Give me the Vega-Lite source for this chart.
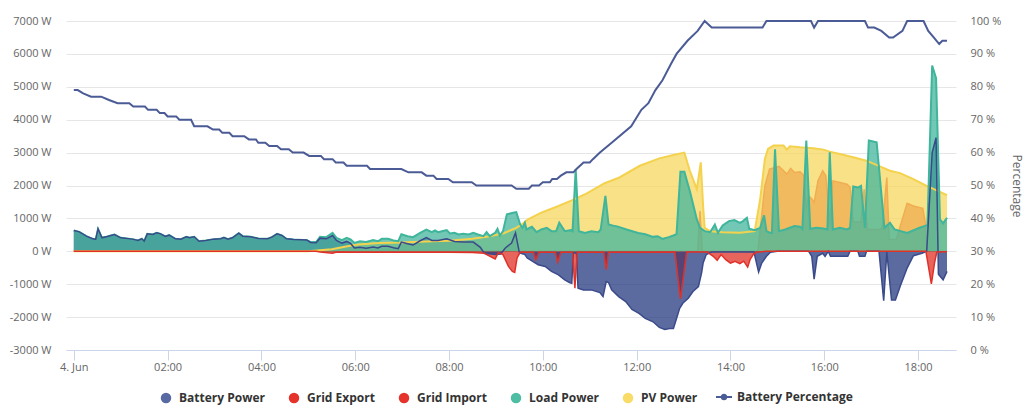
{
  "$schema": "https://vega.github.io/schema/vega-lite/v6.json",
  "width": 890,
  "height": 329,
  "autosize": "none",
  "padding": {"left": 66, "top": 21, "right": 75, "bottom": 67},
  "background": "#ffffff",
  "config": {
    "view": {"stroke": null},
    "font": "Open Sans",
    "axis": {"labelFont": "Open Sans", "labelColor": "#666666", "labelFontSize": 11, "titleFont": "Open Sans"}
  },
  "datasets": {
    "load": [
      {"t":"2024-06-04T00:00","v":630},{"t":"2024-06-04T00:07","v":590},{"t":"2024-06-04T00:16","v":460},{"t":"2024-06-04T00:24","v":380},{"t":"2024-06-04T00:28","v":360},{"t":"2024-06-04T00:31","v":680},{"t":"2024-06-04T00:36","v":410},{"t":"2024-06-04T00:43","v":450},{"t":"2024-06-04T00:52","v":510},{"t":"2024-06-04T01:00","v":410},{"t":"2024-06-04T01:15","v":370},{"t":"2024-06-04T01:22","v":330},{"t":"2024-06-04T01:27","v":380},{"t":"2024-06-04T01:30","v":306},{"t":"2024-06-04T01:34","v":530},{"t":"2024-06-04T01:41","v":510},{"t":"2024-06-04T01:46","v":560},{"t":"2024-06-04T01:51","v":530},{"t":"2024-06-04T01:57","v":450},{"t":"2024-06-04T02:02","v":490},{"t":"2024-06-04T02:10","v":380},{"t":"2024-06-04T02:17","v":370},{"t":"2024-06-04T02:24","v":440},{"t":"2024-06-04T02:28","v":410},{"t":"2024-06-04T02:34","v":440},{"t":"2024-06-04T02:40","v":306},{"t":"2024-06-04T02:49","v":330},{"t":"2024-06-04T02:59","v":370},{"t":"2024-06-04T03:08","v":380},{"t":"2024-06-04T03:12","v":420},{"t":"2024-06-04T03:17","v":370},{"t":"2024-06-04T03:23","v":410},{"t":"2024-06-04T03:31","v":550},{"t":"2024-06-04T03:36","v":460},{"t":"2024-06-04T03:46","v":440},{"t":"2024-06-04T03:56","v":390},{"t":"2024-06-04T04:08","v":380},{"t":"2024-06-04T04:14","v":440},{"t":"2024-06-04T04:20","v":530},{"t":"2024-06-04T04:26","v":480},{"t":"2024-06-04T04:32","v":380},{"t":"2024-06-04T04:41","v":360},{"t":"2024-06-04T04:58","v":340},{"t":"2024-06-04T05:03","v":280},{"t":"2024-06-04T05:10","v":280},{"t":"2024-06-04T05:15","v":440},{"t":"2024-06-04T05:23","v":430},{"t":"2024-06-04T05:31","v":560},{"t":"2024-06-04T05:36","v":410},{"t":"2024-06-04T05:43","v":340},{"t":"2024-06-04T05:49","v":410},{"t":"2024-06-04T05:54","v":360},{"t":"2024-06-04T05:59","v":255},{"t":"2024-06-04T06:06","v":306},{"t":"2024-06-04T06:14","v":285},{"t":"2024-06-04T06:23","v":340},{"t":"2024-06-04T06:29","v":306},{"t":"2024-06-04T06:34","v":380},{"t":"2024-06-04T06:42","v":380},{"t":"2024-06-04T06:49","v":330},{"t":"2024-06-04T06:55","v":306},{"t":"2024-06-04T06:59","v":520},{"t":"2024-06-04T07:07","v":460},{"t":"2024-06-04T07:14","v":430},{"t":"2024-06-04T07:23","v":560},{"t":"2024-06-04T07:31","v":660},{"t":"2024-06-04T07:38","v":580},{"t":"2024-06-04T07:42","v":632},{"t":"2024-06-04T07:46","v":581},{"t":"2024-06-04T07:51","v":612},{"t":"2024-06-04T07:57","v":643},{"t":"2024-06-04T08:01","v":540},{"t":"2024-06-04T08:07","v":561},{"t":"2024-06-04T08:12","v":510},{"t":"2024-06-04T08:18","v":530},{"t":"2024-06-04T08:25","v":510},{"t":"2024-06-04T08:31","v":561},{"t":"2024-06-04T08:37","v":510},{"t":"2024-06-04T08:44","v":459},{"t":"2024-06-04T08:48","v":581},{"t":"2024-06-04T08:52","v":459},{"t":"2024-06-04T08:59","v":561},{"t":"2024-06-04T09:02","v":683},{"t":"2024-06-04T09:05","v":480},{"t":"2024-06-04T09:09","v":612},{"t":"2024-06-04T09:14","v":1122},{"t":"2024-06-04T09:22","v":1173},{"t":"2024-06-04T09:26","v":1193},{"t":"2024-06-04T09:31","v":816},{"t":"2024-06-04T09:34","v":714},{"t":"2024-06-04T09:37","v":867},{"t":"2024-06-04T09:39","v":663},{"t":"2024-06-04T09:46","v":745},{"t":"2024-06-04T09:52","v":581},{"t":"2024-06-04T09:58","v":663},{"t":"2024-06-04T10:05","v":714},{"t":"2024-06-04T10:11","v":612},{"t":"2024-06-04T10:17","v":612},{"t":"2024-06-04T10:21","v":867},{"t":"2024-06-04T10:28","v":612},{"t":"2024-06-04T10:36","v":643},{"t":"2024-06-04T10:38","v":612},{"t":"2024-06-04T10:42","v":2500},{"t":"2024-06-04T10:46","v":612},{"t":"2024-06-04T10:54","v":561},{"t":"2024-06-04T11:02","v":612},{"t":"2024-06-04T11:11","v":581},{"t":"2024-06-04T11:14","v":663},{"t":"2024-06-04T11:20","v":1683},{"t":"2024-06-04T11:24","v":816},{"t":"2024-06-04T11:30","v":780},{"t":"2024-06-04T11:35","v":758},{"t":"2024-06-04T11:48","v":657},{"t":"2024-06-04T12:02","v":557},{"t":"2024-06-04T12:11","v":520},{"t":"2024-06-04T12:21","v":439},{"t":"2024-06-04T12:27","v":460},{"t":"2024-06-04T12:33","v":377},{"t":"2024-06-04T12:41","v":430},{"t":"2024-06-04T12:47","v":479},{"t":"2024-06-04T12:51","v":520},{"t":"2024-06-04T12:56","v":2417},{"t":"2024-06-04T13:01","v":2417},{"t":"2024-06-04T13:08","v":1836},{"t":"2024-06-04T13:17","v":969},{"t":"2024-06-04T13:21","v":714},{"t":"2024-06-04T13:27","v":612},{"t":"2024-06-04T13:34","v":581},{"t":"2024-06-04T13:40","v":816},{"t":"2024-06-04T13:44","v":561},{"t":"2024-06-04T13:50","v":785},{"t":"2024-06-04T13:58","v":918},{"t":"2024-06-04T14:05","v":949},{"t":"2024-06-04T14:12","v":867},{"t":"2024-06-04T14:16","v":918},{"t":"2024-06-04T14:21","v":1020},{"t":"2024-06-04T14:24","v":683},{"t":"2024-06-04T14:31","v":643},{"t":"2024-06-04T14:38","v":714},{"t":"2024-06-04T14:43","v":1091},{"t":"2024-06-04T14:46","v":612},{"t":"2024-06-04T14:51","v":560},{"t":"2024-06-04T14:53","v":560},{"t":"2024-06-04T14:57","v":3100},{"t":"2024-06-04T15:02","v":612},{"t":"2024-06-04T15:10","v":663},{"t":"2024-06-04T15:16","v":714},{"t":"2024-06-04T15:22","v":765},{"t":"2024-06-04T15:29","v":745},{"t":"2024-06-04T15:32","v":683},{"t":"2024-06-04T15:37","v":3366},{"t":"2024-06-04T15:42","v":683},{"t":"2024-06-04T15:50","v":714},{"t":"2024-06-04T15:59","v":693},{"t":"2024-06-04T16:04","v":663},{"t":"2024-06-04T16:07","v":3009},{"t":"2024-06-04T16:11","v":663},{"t":"2024-06-04T16:20","v":714},{"t":"2024-06-04T16:29","v":663},{"t":"2024-06-04T16:33","v":714},{"t":"2024-06-04T16:37","v":1969},{"t":"2024-06-04T16:43","v":1938},{"t":"2024-06-04T16:47","v":1989},{"t":"2024-06-04T16:52","v":714},{"t":"2024-06-04T16:57","v":3366},{"t":"2024-06-04T17:07","v":3315},{"t":"2024-06-04T17:17","v":714},{"t":"2024-06-04T17:24","v":867},{"t":"2024-06-04T17:30","v":663},{"t":"2024-06-04T17:46","v":561},{"t":"2024-06-04T18:02","v":714},{"t":"2024-06-04T18:08","v":765},{"t":"2024-06-04T18:12","v":800},{"t":"2024-06-04T18:18","v":5647},{"t":"2024-06-04T18:23","v":5262},{"t":"2024-06-04T18:28","v":969},{"t":"2024-06-04T18:32","v":847},{"t":"2024-06-04T18:37","v":1020}
    ],
    "bat": [
      {"t":"2024-06-04T00:00","v":630},{"t":"2024-06-04T00:07","v":590},{"t":"2024-06-04T00:16","v":460},{"t":"2024-06-04T00:24","v":380},{"t":"2024-06-04T00:28","v":360},{"t":"2024-06-04T00:31","v":680},{"t":"2024-06-04T00:36","v":410},{"t":"2024-06-04T00:43","v":450},{"t":"2024-06-04T00:52","v":510},{"t":"2024-06-04T01:00","v":410},{"t":"2024-06-04T01:15","v":370},{"t":"2024-06-04T01:22","v":330},{"t":"2024-06-04T01:27","v":380},{"t":"2024-06-04T01:30","v":306},{"t":"2024-06-04T01:34","v":530},{"t":"2024-06-04T01:41","v":510},{"t":"2024-06-04T01:46","v":560},{"t":"2024-06-04T01:51","v":530},{"t":"2024-06-04T01:57","v":450},{"t":"2024-06-04T02:02","v":490},{"t":"2024-06-04T02:10","v":380},{"t":"2024-06-04T02:17","v":370},{"t":"2024-06-04T02:24","v":440},{"t":"2024-06-04T02:28","v":410},{"t":"2024-06-04T02:34","v":440},{"t":"2024-06-04T02:40","v":306},{"t":"2024-06-04T02:49","v":330},{"t":"2024-06-04T02:59","v":370},{"t":"2024-06-04T03:08","v":380},{"t":"2024-06-04T03:12","v":420},{"t":"2024-06-04T03:17","v":370},{"t":"2024-06-04T03:23","v":410},{"t":"2024-06-04T03:31","v":550},{"t":"2024-06-04T03:36","v":460},{"t":"2024-06-04T03:46","v":440},{"t":"2024-06-04T03:56","v":390},{"t":"2024-06-04T04:08","v":380},{"t":"2024-06-04T04:14","v":440},{"t":"2024-06-04T04:20","v":530},{"t":"2024-06-04T04:26","v":480},{"t":"2024-06-04T04:32","v":380},{"t":"2024-06-04T04:41","v":360},{"t":"2024-06-04T04:58","v":340},{"t":"2024-06-04T05:03","v":270},{"t":"2024-06-04T05:10","v":260},{"t":"2024-06-04T05:15","v":400},{"t":"2024-06-04T05:23","v":380},{"t":"2024-06-04T05:31","v":480},{"t":"2024-06-04T05:36","v":330},{"t":"2024-06-04T05:43","v":250},{"t":"2024-06-04T05:49","v":300},{"t":"2024-06-04T05:54","v":240},{"t":"2024-06-04T05:59","v":100},{"t":"2024-06-04T06:06","v":120},{"t":"2024-06-04T06:14","v":90},{"t":"2024-06-04T06:23","v":130},{"t":"2024-06-04T06:29","v":100},{"t":"2024-06-04T06:34","v":150},{"t":"2024-06-04T06:42","v":150},{"t":"2024-06-04T06:49","v":110},{"t":"2024-06-04T06:55","v":80},{"t":"2024-06-04T06:59","v":280},{"t":"2024-06-04T07:07","v":230},{"t":"2024-06-04T07:14","v":190},{"t":"2024-06-04T07:23","v":320},{"t":"2024-06-04T07:31","v":420},{"t":"2024-06-04T07:38","v":330},{"t":"2024-06-04T07:46","v":330},{"t":"2024-06-04T07:57","v":380},{"t":"2024-06-04T08:07","v":300},{"t":"2024-06-04T08:18","v":280},{"t":"2024-06-04T08:31","v":280},{"t":"2024-06-04T08:40","v":120},{"t":"2024-06-04T08:45","v":-60},{"t":"2024-06-04T09:00","v":-100},{"t":"2024-06-04T09:06","v":-80},{"t":"2024-06-04T09:12","v":100},{"t":"2024-06-04T09:20","v":250},{"t":"2024-06-04T09:25","v":560},{"t":"2024-06-04T09:30","v":-50},{"t":"2024-06-04T09:35","v":-80},{"t":"2024-06-04T09:37","v":-100},{"t":"2024-06-04T09:40","v":-204},{"t":"2024-06-04T09:47","v":-306},{"t":"2024-06-04T09:54","v":-408},{"t":"2024-06-04T10:03","v":-459},{"t":"2024-06-04T10:11","v":-612},{"t":"2024-06-04T10:20","v":-714},{"t":"2024-06-04T10:28","v":-867},{"t":"2024-06-04T10:34","v":-949},{"t":"2024-06-04T10:37","v":-969},{"t":"2024-06-04T10:39","v":-50},{"t":"2024-06-04T10:43","v":-50},{"t":"2024-06-04T10:45","v":-1122},{"t":"2024-06-04T10:52","v":-1173},{"t":"2024-06-04T11:02","v":-1173},{"t":"2024-06-04T11:13","v":-1255},{"t":"2024-06-04T11:17","v":-1377},{"t":"2024-06-04T11:21","v":-918},{"t":"2024-06-04T11:24","v":-949},{"t":"2024-06-04T11:28","v":-1173},{"t":"2024-06-04T11:37","v":-1377},{"t":"2024-06-04T11:46","v":-1530},{"t":"2024-06-04T11:54","v":-1765},{"t":"2024-06-04T12:03","v":-1887},{"t":"2024-06-04T12:11","v":-2040},{"t":"2024-06-04T12:21","v":-2142},{"t":"2024-06-04T12:29","v":-2315},{"t":"2024-06-04T12:36","v":-2377},{"t":"2024-06-04T12:42","v":-2346},{"t":"2024-06-04T12:47","v":-2346},{"t":"2024-06-04T12:51","v":-2040},{"t":"2024-06-04T12:55","v":-1734},{"t":"2024-06-04T12:59","v":-1581},{"t":"2024-06-04T13:06","v":-1428},{"t":"2024-06-04T13:12","v":-1224},{"t":"2024-06-04T13:19","v":-1071},{"t":"2024-06-04T13:23","v":-663},{"t":"2024-06-04T13:25","v":-357},{"t":"2024-06-04T13:29","v":-100},{"t":"2024-06-04T13:36","v":-20},{"t":"2024-06-04T14:30","v":-20},{"t":"2024-06-04T14:36","v":-630},{"t":"2024-06-04T14:40","v":-357},{"t":"2024-06-04T14:46","v":-153},{"t":"2024-06-04T14:51","v":-30},{"t":"2024-06-04T15:00","v":0},{"t":"2024-06-04T15:40","v":0},{"t":"2024-06-04T15:44","v":-150},{"t":"2024-06-04T15:47","v":-847},{"t":"2024-06-04T15:51","v":-150},{"t":"2024-06-04T15:58","v":-60},{"t":"2024-06-04T16:01","v":-153},{"t":"2024-06-04T16:05","v":0},{"t":"2024-06-04T16:08","v":-153},{"t":"2024-06-04T16:30","v":-153},{"t":"2024-06-04T16:33","v":0},{"t":"2024-06-04T16:43","v":0},{"t":"2024-06-04T16:45","v":-153},{"t":"2024-06-04T16:52","v":-153},{"t":"2024-06-04T16:54","v":0},{"t":"2024-06-04T17:10","v":0},{"t":"2024-06-04T17:16","v":-1500},{"t":"2024-06-04T17:20","v":-20},{"t":"2024-06-04T17:26","v":-1479},{"t":"2024-06-04T17:31","v":-1479},{"t":"2024-06-04T17:37","v":-1071},{"t":"2024-06-04T17:46","v":-510},{"t":"2024-06-04T17:54","v":-133},{"t":"2024-06-04T18:05","v":-60},{"t":"2024-06-04T18:11","v":0},{"t":"2024-06-04T18:18","v":3000},{"t":"2024-06-04T18:23","v":3450},{"t":"2024-06-04T18:26","v":-700},{"t":"2024-06-04T18:32","v":-867},{"t":"2024-06-04T18:37","v":-612}
    ],
    "gimp": [
      {"t":"2024-06-04T00:00","v":0},{"t":"2024-06-04T05:10","v":0},{"t":"2024-06-04T05:15","v":-20},{"t":"2024-06-04T05:31","v":-60},{"t":"2024-06-04T05:36","v":-20},{"t":"2024-06-04T06:00","v":-30},{"t":"2024-06-04T07:00","v":-30},{"t":"2024-06-04T08:00","v":-30},{"t":"2024-06-04T08:30","v":-40},{"t":"2024-06-04T08:45","v":-60},{"t":"2024-06-04T08:59","v":-235},{"t":"2024-06-04T09:03","v":-40},{"t":"2024-06-04T09:09","v":-100},{"t":"2024-06-04T09:16","v":-459},{"t":"2024-06-04T09:21","v":-612},{"t":"2024-06-04T09:24","v":-643},{"t":"2024-06-04T09:27","v":-200},{"t":"2024-06-04T09:31","v":-30},{"t":"2024-06-04T09:48","v":-30},{"t":"2024-06-04T09:51","v":-260},{"t":"2024-06-04T09:55","v":-30},{"t":"2024-06-04T10:16","v":-30},{"t":"2024-06-04T10:19","v":-330},{"t":"2024-06-04T10:23","v":-30},{"t":"2024-06-04T10:38","v":-30},{"t":"2024-06-04T10:41","v":-1122},{"t":"2024-06-04T10:44","v":-30},{"t":"2024-06-04T11:18","v":-30},{"t":"2024-06-04T11:21","v":-561},{"t":"2024-06-04T11:24","v":-30},{"t":"2024-06-04T12:49","v":-20},{"t":"2024-06-04T12:56","v":-1450},{"t":"2024-06-04T13:04","v":-20},{"t":"2024-06-04T13:30","v":-20},{"t":"2024-06-04T13:38","v":-153},{"t":"2024-06-04T13:43","v":-275},{"t":"2024-06-04T13:48","v":-100},{"t":"2024-06-04T13:54","v":-255},{"t":"2024-06-04T14:00","v":-357},{"t":"2024-06-04T14:06","v":-306},{"t":"2024-06-04T14:12","v":-377},{"t":"2024-06-04T14:17","v":-300},{"t":"2024-06-04T14:22","v":-480},{"t":"2024-06-04T14:25","v":-255},{"t":"2024-06-04T14:29","v":-100},{"t":"2024-06-04T14:33","v":-30},{"t":"2024-06-04T14:45","v":0},{"t":"2024-06-04T18:10","v":0},{"t":"2024-06-04T18:17","v":-989},{"t":"2024-06-04T18:21","v":-357},{"t":"2024-06-04T18:24","v":-20},{"t":"2024-06-04T18:37","v":-10}
    ],
    "gexp": [
      {"t":"2024-06-04T00:00","v":0},{"t":"2024-06-04T13:18","v":0},{"t":"2024-06-04T13:21","v":1224},{"t":"2024-06-04T13:24","v":0},{"t":"2024-06-04T14:35","v":0},{"t":"2024-06-04T14:44","v":1989},{"t":"2024-06-04T14:50","v":2500},{"t":"2024-06-04T15:02","v":2580},{"t":"2024-06-04T15:08","v":2448},{"t":"2024-06-04T15:12","v":2346},{"t":"2024-06-04T15:17","v":2519},{"t":"2024-06-04T15:22","v":2397},{"t":"2024-06-04T15:29","v":2417},{"t":"2024-06-04T15:34","v":2300},{"t":"2024-06-04T15:37","v":1300},{"t":"2024-06-04T15:40","v":1683},{"t":"2024-06-04T15:44","v":1600},{"t":"2024-06-04T15:47","v":1479},{"t":"2024-06-04T15:52","v":2142},{"t":"2024-06-04T15:58","v":2448},{"t":"2024-06-04T16:02","v":2300},{"t":"2024-06-04T16:07","v":800},{"t":"2024-06-04T16:11","v":2142},{"t":"2024-06-04T16:20","v":2091},{"t":"2024-06-04T16:29","v":2040},{"t":"2024-06-04T16:33","v":1950},{"t":"2024-06-04T16:37","v":900},{"t":"2024-06-04T16:47","v":900},{"t":"2024-06-04T16:51","v":1887},{"t":"2024-06-04T16:55","v":660},{"t":"2024-06-04T17:10","v":660},{"t":"2024-06-04T17:14","v":700},{"t":"2024-06-04T17:20","v":2244},{"t":"2024-06-04T17:23","v":357},{"t":"2024-06-04T17:32","v":357},{"t":"2024-06-04T17:46","v":1459},{"t":"2024-06-04T17:54","v":1377},{"t":"2024-06-04T18:06","v":1306},{"t":"2024-06-04T18:09","v":900},{"t":"2024-06-04T18:12","v":0},{"t":"2024-06-04T18:37","v":0}
    ],
    "pv": [
      {"t":"2024-06-04T00:00","v":0},{"t":"2024-06-04T05:00","v":0},{"t":"2024-06-04T05:30","v":60},{"t":"2024-06-04T06:00","v":200},{"t":"2024-06-04T06:30","v":250},{"t":"2024-06-04T07:00","v":270},{"t":"2024-06-04T07:30","v":300},{"t":"2024-06-04T08:00","v":320},{"t":"2024-06-04T08:30","v":380},{"t":"2024-06-04T08:50","v":450},{"t":"2024-06-04T09:10","v":550},{"t":"2024-06-04T09:25","v":700},{"t":"2024-06-04T09:33","v":816},{"t":"2024-06-04T09:41","v":969},{"t":"2024-06-04T09:58","v":1173},{"t":"2024-06-04T10:20","v":1377},{"t":"2024-06-04T10:37","v":1550},{"t":"2024-06-04T10:54","v":1734},{"t":"2024-06-04T11:19","v":2070},{"t":"2024-06-04T11:38","v":2244},{"t":"2024-06-04T12:04","v":2600},{"t":"2024-06-04T12:29","v":2825},{"t":"2024-06-04T12:47","v":2927},{"t":"2024-06-04T13:01","v":3000},{"t":"2024-06-04T13:08","v":2448},{"t":"2024-06-04T13:17","v":1887},{"t":"2024-06-04T13:22","v":2703},{"t":"2024-06-04T13:25","v":1377},{"t":"2024-06-04T13:27","v":714},{"t":"2024-06-04T13:34","v":612},{"t":"2024-06-04T13:50","v":581},{"t":"2024-06-04T14:12","v":561},{"t":"2024-06-04T14:31","v":612},{"t":"2024-06-04T14:38","v":1581},{"t":"2024-06-04T14:44","v":2805},{"t":"2024-06-04T14:48","v":3111},{"t":"2024-06-04T14:55","v":3213},{"t":"2024-06-04T15:08","v":3213},{"t":"2024-06-04T15:12","v":3091},{"t":"2024-06-04T15:16","v":3193},{"t":"2024-06-04T15:29","v":3162},{"t":"2024-06-04T15:46","v":3131},{"t":"2024-06-04T15:59","v":3091},{"t":"2024-06-04T16:07","v":3029},{"t":"2024-06-04T16:20","v":2958},{"t":"2024-06-04T16:37","v":2856},{"t":"2024-06-04T16:54","v":2754},{"t":"2024-06-04T17:11","v":2580},{"t":"2024-06-04T17:24","v":2448},{"t":"2024-06-04T17:37","v":2377},{"t":"2024-06-04T17:54","v":2193},{"t":"2024-06-04T18:11","v":1989},{"t":"2024-06-04T18:28","v":1805},{"t":"2024-06-04T18:37","v":1703}
    ],
    "soc": [
      {"t":"2024-06-04T00:00","v":79},{"t":"2024-06-04T00:05","v":79},{"t":"2024-06-04T00:12","v":78},{"t":"2024-06-04T00:22","v":77},{"t":"2024-06-04T00:35","v":77},{"t":"2024-06-04T00:45","v":76},{"t":"2024-06-04T00:56","v":75},{"t":"2024-06-04T01:11","v":75},{"t":"2024-06-04T01:16","v":74},{"t":"2024-06-04T01:31","v":74},{"t":"2024-06-04T01:35","v":73},{"t":"2024-06-04T01:46","v":73},{"t":"2024-06-04T01:50","v":72},{"t":"2024-06-04T01:56","v":72},{"t":"2024-06-04T02:00","v":71},{"t":"2024-06-04T02:11","v":71},{"t":"2024-06-04T02:15","v":70},{"t":"2024-06-04T02:30","v":70},{"t":"2024-06-04T02:34","v":68},{"t":"2024-06-04T02:51","v":68},{"t":"2024-06-04T02:58","v":67},{"t":"2024-06-04T03:06","v":67},{"t":"2024-06-04T03:10","v":66},{"t":"2024-06-04T03:19","v":66},{"t":"2024-06-04T03:23","v":65},{"t":"2024-06-04T03:38","v":65},{"t":"2024-06-04T03:44","v":64},{"t":"2024-06-04T03:53","v":64},{"t":"2024-06-04T03:56","v":63},{"t":"2024-06-04T04:05","v":63},{"t":"2024-06-04T04:10","v":62},{"t":"2024-06-04T04:20","v":62},{"t":"2024-06-04T04:25","v":61},{"t":"2024-06-04T04:35","v":61},{"t":"2024-06-04T04:40","v":60},{"t":"2024-06-04T04:54","v":60},{"t":"2024-06-04T05:01","v":59},{"t":"2024-06-04T05:16","v":59},{"t":"2024-06-04T05:20","v":58},{"t":"2024-06-04T05:31","v":58},{"t":"2024-06-04T05:35","v":57},{"t":"2024-06-04T05:45","v":57},{"t":"2024-06-04T05:49","v":56},{"t":"2024-06-04T06:15","v":56},{"t":"2024-06-04T06:19","v":55},{"t":"2024-06-04T06:59","v":55},{"t":"2024-06-04T07:08","v":54},{"t":"2024-06-04T07:25","v":54},{"t":"2024-06-04T07:31","v":53},{"t":"2024-06-04T07:40","v":53},{"t":"2024-06-04T07:44","v":52},{"t":"2024-06-04T07:59","v":52},{"t":"2024-06-04T08:05","v":51},{"t":"2024-06-04T08:29","v":51},{"t":"2024-06-04T08:35","v":50},{"t":"2024-06-04T09:20","v":50},{"t":"2024-06-04T09:26","v":49},{"t":"2024-06-04T09:42","v":49},{"t":"2024-06-04T09:46","v":50},{"t":"2024-06-04T09:55","v":50},{"t":"2024-06-04T10:00","v":51},{"t":"2024-06-04T10:09","v":51},{"t":"2024-06-04T10:12","v":52},{"t":"2024-06-04T10:18","v":52},{"t":"2024-06-04T10:23","v":53},{"t":"2024-06-04T10:30","v":54},{"t":"2024-06-04T10:39","v":54},{"t":"2024-06-04T10:43","v":55},{"t":"2024-06-04T10:52","v":57},{"t":"2024-06-04T11:00","v":57},{"t":"2024-06-04T11:04","v":58},{"t":"2024-06-04T11:13","v":60},{"t":"2024-06-04T11:28","v":63},{"t":"2024-06-04T11:53","v":68},{"t":"2024-06-04T12:06","v":73},{"t":"2024-06-04T12:15","v":75},{"t":"2024-06-04T12:24","v":79},{"t":"2024-06-04T12:33","v":82},{"t":"2024-06-04T12:44","v":87},{"t":"2024-06-04T12:51","v":90},{"t":"2024-06-04T13:05","v":94},{"t":"2024-06-04T13:18","v":97},{"t":"2024-06-04T13:27","v":100},{"t":"2024-06-04T13:36","v":98},{"t":"2024-06-04T14:41","v":98},{"t":"2024-06-04T14:46","v":100},{"t":"2024-06-04T15:43","v":100},{"t":"2024-06-04T15:47","v":98},{"t":"2024-06-04T15:52","v":100},{"t":"2024-06-04T16:52","v":100},{"t":"2024-06-04T16:56","v":98},{"t":"2024-06-04T17:04","v":98},{"t":"2024-06-04T17:13","v":97},{"t":"2024-06-04T17:23","v":95},{"t":"2024-06-04T17:28","v":95},{"t":"2024-06-04T17:40","v":97},{"t":"2024-06-04T17:46","v":100},{"t":"2024-06-04T18:07","v":100},{"t":"2024-06-04T18:13","v":97},{"t":"2024-06-04T18:20","v":95},{"t":"2024-06-04T18:27","v":93},{"t":"2024-06-04T18:31","v":94},{"t":"2024-06-04T18:37","v":94}
    ],
    "series": [
      {"s":"Battery Power"},{"s":"Grid Export"},{"s":"Grid Import"},{"s":"Load Power"},{"s":"PV Power"}
    ],
    "series2": [
      {"s":"Battery Percentage"}
    ]
  },
  "layer": [
    {
      "encoding": {
        "x": {"field": "t", "type": "temporal",
          "scale": {"domain": ["2024-06-03T23:50:00", "2024-06-04T18:48:30"]},
          "axis": {"title": null, "format": "%H:%M", "values": {"expr": "[datetime(2024,5,4,0,0), datetime(2024,5,4,2,0), datetime(2024,5,4,4,0), datetime(2024,5,4,6,0), datetime(2024,5,4,8,0), datetime(2024,5,4,10,0), datetime(2024,5,4,12,0), datetime(2024,5,4,14,0), datetime(2024,5,4,16,0), datetime(2024,5,4,18,0)]"}, "labelExpr": "hours(datum.value) === 0 ? '4. Jun' : datum.label", "grid": false, "domainColor": "#ccd6eb", "tickColor": "#ccd6eb", "tickSize": 10, "labelPadding": 1, "labelFlush": false, "labelOverlap": false}},
        "y": {"field": "v", "type": "quantitative",
          "scale": {"domain": [-3000, 7000], "nice": false, "zero": false},
          "axis": {"title": null, "values": [-3000,-2000,-1000,0,1000,2000,3000,4000,5000,6000,7000], "labelExpr": "datum.value + ' W'", "grid": true, "gridColor": "#e6e6e6", "domain": false, "ticks": false, "labelPadding": 15}}
      },
      "layer": [
        {"data": {"name": "gexp"}, "mark": {"type": "area", "color": "#e03128", "fillOpacity": 0.75}, "encoding": {}},
        {"data": {"name": "gexp"}, "mark": {"type": "line", "color": "#e03128", "strokeWidth": 1.5}, "encoding": {}},
        {"data": {"name": "gimp"}, "mark": {"type": "area", "color": "#e03128", "fillOpacity": 0.75}, "encoding": {}},
        {"data": {"name": "bat"}, "mark": {"type": "area", "color": "#26397f", "fillOpacity": 0.75}, "encoding": {}},
        {"data": {"name": "pv"}, "mark": {"type": "area", "color": "#f6d75f", "fillOpacity": 0.75}, "encoding": {}},
        {"data": {"name": "load"}, "mark": {"type": "area", "color": "#43b59c", "fillOpacity": 0.75}, "encoding": {}},
        {"data": {"name": "pv"}, "mark": {"type": "line", "color": "#f5d24e", "strokeWidth": 2}, "encoding": {}},
        {"data": {"name": "load"}, "mark": {"type": "line", "color": "#3fb59b", "strokeWidth": 2}, "encoding": {}},
        {"data": {"name": "bat"}, "mark": {"type": "line", "color": "#3a4a8a", "strokeWidth": 1.5}, "encoding": {}},
        {"data": {"name": "gimp"}, "mark": {"type": "line", "color": "#e03128", "strokeWidth": 1.5}, "encoding": {}}
      ]
    },
    {
      "data": {"name": "soc"},
      "mark": {"type": "line", "color": "#4b5b96", "strokeWidth": 2},
      "encoding": {
        "x": {"field": "t", "type": "temporal"},
        "y": {"field": "v", "type": "quantitative",
          "scale": {"domain": [0, 100], "nice": false},
          "axis": {"orient": "right", "title": "Percentage", "titleColor": "#666666", "titleFontSize": 12, "titleFontWeight": "normal", "titlePadding": 9, "values": [0,10,20,30,40,50,60,70,80,90,100], "labelExpr": "datum.value + ' %'", "grid": false, "domain": false, "ticks": false, "labelPadding": 14}}
      }
    },
    {
      "data": {"name": "series"},
      "mark": {"type": "point", "filled": true, "opacity": 0},
      "encoding": {
        "color": {"field": "s", "type": "nominal",
          "scale": {"domain": ["Battery Power", "Grid Export", "Grid Import", "Load Power", "PV Power"], "range": ["#5969a3", "#e5322a", "#e5322a", "#4dbda3", "#f8dc67"]},
          "legend": {"title": null, "orient": "none", "legendX": 94, "legendY": 371, "direction": "horizontal",
            "labelFont": "Open Sans", "labelFontWeight": "bold", "labelFontSize": 12, "labelColor": "#333333",
            "symbolType": "circle", "symbolSize": 110, "symbolOpacity": 1, "labelOffset": 7, "columnPadding": 23}}
      }
    },
    {
      "data": {"name": "series2"},
      "mark": {"type": "point", "filled": true, "opacity": 0},
      "encoding": {
        "fill": {"field": "s", "type": "nominal",
          "scale": {"domain": ["Battery Percentage"], "range": ["#4b5b96"]},
          "legend": {"title": null, "orient": "none", "legendX": 650, "legendY": 368, "direction": "horizontal",
            "labelFont": "Open Sans", "labelFontWeight": "bold", "labelFontSize": 12, "labelColor": "#333333",
            "symbolType": "M-1,-0.125H1V0.125H-1Z M0.42,0A0.42,0.42 0 1,1 -0.42,0A0.42,0.42 0 1,1 0.42,0Z", "symbolSize": 256, "symbolOpacity": 1, "symbolStrokeWidth": 0, "labelOffset": 5}}
      }
    }
  ],
  "resolve": {"scale": {"y": "independent"}}
}
